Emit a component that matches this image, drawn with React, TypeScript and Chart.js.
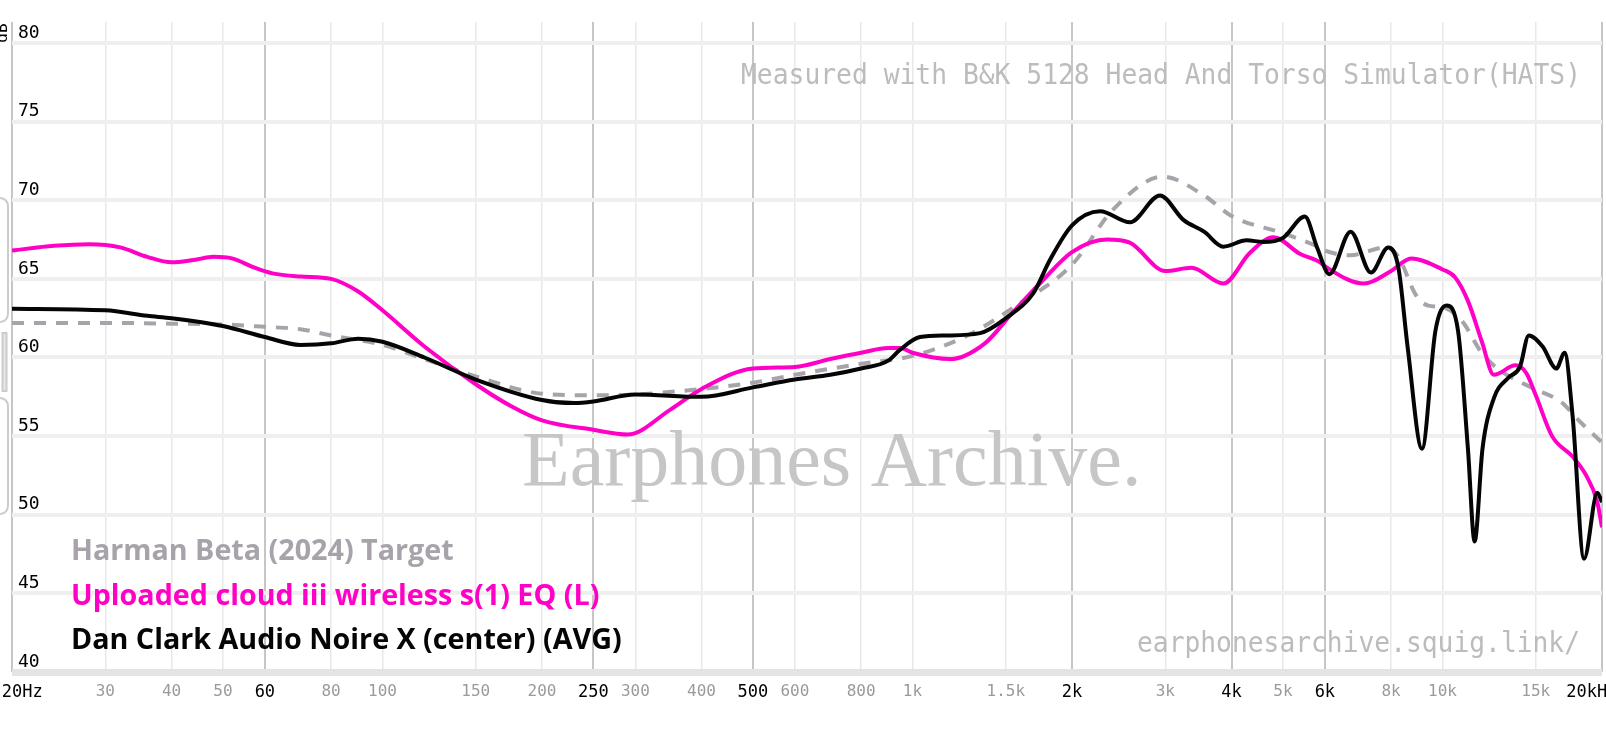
import React, { useEffect, useRef } from "react";
import { Chart, registerables } from "chart.js";

Chart.register(...registerables);

// ---- data (frequency in Hz, level in dB) ----
const harmanFreq = [20, 30, 40, 50, 60, 70, 80, 100, 120, 150, 200, 250, 300, 400, 500, 600, 800, 1000, 1270, 1570, 2000, 2390, 2970, 3550, 4000, 5000, 5820, 6000, 6700, 7800, 8260, 8900, 9400, 10000, 10900, 11800, 12700, 14900, 16700, 18200, 20000];
const harmanDb = [62.2, 62.2, 62.15, 62.1, 61.95, 61.8, 61.4, 60.8, 59.9, 58.8, 57.7, 57.6, 57.65, 58.0, 58.4, 58.9, 59.6, 60.1, 61.4, 63.3, 65.9, 69.4, 71.5, 70.3, 69.0, 67.9, 67.05, 66.8, 66.5, 67.0, 66.4, 64.0, 63.3, 63.2, 62.3, 60.4, 59.3, 58.0, 57.2, 55.9, 54.6];

const cloudFreq = [20, 24, 28, 32, 36, 40, 44, 48, 52, 57, 62, 70, 80, 90, 100, 120, 150, 175, 200, 250, 290, 350, 400, 500, 600, 700, 800, 900, 948, 1000, 1178, 1370, 1540, 1750, 2000, 2330, 2570, 3000, 3360, 3860, 4330, 4800, 5380, 5875, 6000, 7114, 8000, 8724, 10000, 10560, 11170, 11870, 12500, 13740, 14400, 15000, 16100, 17600, 18670, 19600, 20000];
const cloudDb = [66.8, 67.1, 67.2, 67.0, 66.4, 66.05, 66.2, 66.4, 66.3, 65.75, 65.35, 65.15, 65.0, 64.2, 63.0, 60.7, 58.3, 56.9, 56.0, 55.4, 55.1, 56.7, 58.0, 59.3, 59.4, 59.9, 60.3, 60.6, 60.6, 60.3, 59.9, 60.9, 62.8, 64.8, 66.7, 67.5, 67.3, 65.5, 65.7, 64.7, 66.65, 67.65, 66.6, 66.05, 65.8, 64.7, 65.5, 66.3, 65.6, 65.1, 63.6, 61.0, 58.9, 59.5, 59.0, 57.6, 55.0, 53.7, 52.5, 50.8, 49.2];

const noireFreq = [20, 30, 36, 40, 50, 60, 70, 80, 90, 100, 120, 150, 200, 230, 250, 300, 400, 500, 600, 700, 800, 900, 948, 1033, 1160, 1341, 1500, 1691, 1817, 2000, 2259, 2573, 2931, 3245, 3550, 3860, 4270, 4590, 5000, 5500, 5800, 6120, 6710, 7330, 7900, 8260, 8600, 9150, 9700, 10180, 10700, 11170, 11500, 11900, 12500, 13300, 14000, 14550, 15450, 16400, 17000, 17600, 18500, 19600, 20000];
const noireDb = [63.1, 63.0, 62.65, 62.5, 62.0, 61.3, 60.8, 60.9, 61.2, 61.0, 60.0, 58.6, 57.3, 57.1, 57.2, 57.65, 57.5, 58.1, 58.6, 58.9, 59.3, 59.8, 60.5, 61.3, 61.4, 61.55, 62.5, 64.1, 66.2, 68.4, 69.3, 68.6, 70.3, 68.75, 68.0, 67.05, 67.45, 67.35, 67.6, 68.96, 67.0, 65.3, 68.0, 65.4, 67.0, 65.7, 60.6, 54.2, 61.7, 63.3, 61.7, 54.2, 48.3, 54.2, 57.4, 58.7, 59.4, 61.4, 60.7, 59.3, 60.3, 56.3, 47.2, 51.4, 50.8];

const seriesLabels = [
  "Harman Beta (2024) Target",
  "Uploaded cloud iii wireless s(1) EQ (L)",
  "Dan Clark Audio Noire X (center) (AVG)",
];
const seriesColors = ["#a8a3ab", "#ff00c6", "#050505"];

const xTickValues = [20, 30, 40, 50, 60, 80, 100, 150, 200, 250, 300, 400, 500, 600, 800, 1000, 1500, 2000, 3000, 4000, 5000, 6000, 8000, 10000, 15000, 20000];
const xTickLabels = ["  20Hz", "30", "40", "50", "60", "80", "100", "150", "200", "250", "300", "400", "500", "600", "800", "1k", "1.5k", "2k", "3k", "4k", "5k", "6k", "8k", "10k", "15k", "20kHz  "];
const xMajorTicks = [20, 60, 250, 500, 2000, 4000, 6000, 20000];
const yTickValues = [40, 45, 50, 55, 60, 65, 70, 75, 80];

const watermark = "Earphones Archive.";
const topNote = "Measured with B&K 5128 Head And Torso Simulator(HATS)";
const bottomNote = "earphonesarchive.squig.link/";

const MONO = "DejaVu Sans Mono";

function toPoints(f: number[], d: number[]) {
  return f.map((x, i) => ({ x, y: d[i] }));
}

function roundRectPath(ctx: CanvasRenderingContext2D, x: number, y: number, w: number, h: number, r: number) {
  ctx.beginPath();
  ctx.moveTo(x + r, y);
  ctx.lineTo(x + w - r, y);
  ctx.quadraticCurveTo(x + w, y, x + w, y + r);
  ctx.lineTo(x + w, y + h - r);
  ctx.quadraticCurveTo(x + w, y + h, x + w - r, y + h);
  ctx.lineTo(x + r, y + h);
  ctx.quadraticCurveTo(x, y + h, x, y + h - r);
  ctx.lineTo(x, y + r);
  ctx.quadraticCurveTo(x, y, x + r, y);
  ctx.closePath();
}

const decorPlugin = {
  id: "decor",
  beforeDatasetsDraw(chart: any) {
    const ctx: CanvasRenderingContext2D = chart.ctx;
    ctx.save();
    ctx.fillStyle = "#c6c6c6";
    ctx.font = '78px "Liberation Serif"';
    ctx.textAlign = "left";
    ctx.textBaseline = "alphabetic";
    ctx.fillText(watermark, 522, 485);

    ctx.fillStyle = "#bcbcbc";
    ctx.font = `29px "${MONO}"`;
    ctx.textAlign = "right";
    ctx.textBaseline = "middle";
    ctx.fillText(topNote, 1581, 76, 840);
    ctx.fillText(bottomNote, 1580, 644, 443);
    ctx.restore();
  },
  afterDraw(chart: any) {
    const ctx: CanvasRenderingContext2D = chart.ctx;
    ctx.save();
    // legend
    ctx.font = 'bold 28.7px "Open Sans"';
    ctx.textAlign = "left";
    ctx.textBaseline = "alphabetic";
    chart.data.datasets.forEach((ds: any, i: number) => {
      ctx.fillStyle = ds.legendColor;
      ctx.fillText(ds.label, 71, 560 + i * 44.5);
    });

    // rotated unit label
    ctx.save();
    ctx.translate(7, 33);
    ctx.rotate(-Math.PI / 2);
    ctx.font = `16px "${MONO}"`;
    ctx.fillStyle = "#000";
    ctx.textAlign = "center";
    ctx.textBaseline = "alphabetic";
    ctx.fillText("dB", 0, 0);
    ctx.restore();

    // left scale handle
    ctx.strokeStyle = "#cccccc";
    ctx.lineWidth = 2;
    ctx.fillStyle = "#ffffff";
    roundRectPath(ctx, -12, 198, 20, 124, 9);
    ctx.fill();
    ctx.stroke();
    roundRectPath(ctx, -12, 398, 20, 116, 9);
    ctx.fill();
    ctx.stroke();
    ctx.fillStyle = "#e6e6e6";
    ctx.fillRect(2.5, 333, 4, 58);
    ctx.strokeRect(2.5, 333, 4, 58);
    ctx.restore();
  },
};

export default function App() {
  const ref = useRef<HTMLCanvasElement>(null);

  useEffect(() => {
    if (!ref.current) return;
    const isMajor = (v: any) => xMajorTicks.includes(v);
    const chart = new Chart(ref.current, {
      type: "line",
      data: {
        datasets: [
          {
            label: seriesLabels[0],
            data: toPoints(harmanFreq, harmanDb),
            borderColor: seriesColors[0],
            borderWidth: 4,
            borderDash: [12, 10],
            pointRadius: 0,
            cubicInterpolationMode: "monotone",
            order: 2,
            legendColor: seriesColors[0],
          } as any,
          {
            label: seriesLabels[1],
            data: toPoints(cloudFreq, cloudDb),
            borderColor: seriesColors[1],
            borderWidth: 4,
            pointRadius: 0,
            cubicInterpolationMode: "monotone",
            order: 1,
            legendColor: seriesColors[1],
          } as any,
          {
            label: seriesLabels[2],
            data: toPoints(noireFreq, noireDb),
            borderColor: seriesColors[2],
            borderWidth: 4,
            pointRadius: 0,
            cubicInterpolationMode: "monotone",
            order: 0,
            legendColor: seriesColors[2],
          } as any,
        ],
      },
      options: {
        animation: false,
        responsive: true,
        maintainAspectRatio: false,
        layout: { padding: { top: 22, right: 4, left: 0, bottom: 0 } },
        plugins: {
          legend: { display: false },
          tooltip: { enabled: false },
        },
        scales: {
          x: {
            type: "logarithmic",
            min: 20,
            max: 20000,
            afterBuildTicks: (s: any) => {
              s.ticks = xTickValues.map((v) => ({ value: v }));
            },
            afterFit: (s: any) => {
              s.height = 59;
              s.paddingLeft = 0;
              s.paddingRight = 0;
            },
            border: { display: false },
            grid: {
              drawTicks: false,
              color: (c: any) => (isMajor(c.tick?.value) ? "#c6c6c6" : "#e8e8e8"),
              lineWidth: (c: any) => (isMajor(c.tick?.value) ? 2 : 1.5),
            },
            ticks: {
              autoSkip: false,
              maxRotation: 0,
              minRotation: 0,
              padding: 10,
              callback: (_v: any, i: number) => xTickLabels[i],
              color: (c: any) => (isMajor(c.tick?.value) ? "#000000" : "#9a9a9a"),
              font: (c: any) => ({ family: MONO, size: isMajor(c.tick?.value) ? 17 : 16 }),
            },
          },
          y: {
            type: "linear",
            position: "left",
            min: 40,
            max: 81.335,
            afterBuildTicks: (s: any) => {
              s.ticks = yTickValues.map((v) => ({ value: v }));
            },
            afterFit: (s: any) => {
              s.width = 12;
              s.paddingTop = 0;
              s.paddingBottom = 0;
            },
            border: { display: false },
            grid: {
              drawTicks: false,
              color: (c: any) => (c.tick?.value === 40 ? "#e4e4e4" : "#efefef"),
              lineWidth: (c: any) => (c.tick?.value === 40 ? 7 : 4),
            },
            ticks: {
              mirror: true,
              padding: 6,
              labelOffset: -10,
              color: "#000000",
              font: { family: MONO, size: 18 },
            },
          },
        },
      } as any,
      plugins: [decorPlugin],
    });
    return () => chart.destroy();
  }, []);

  return (
    <div style={{ position: "absolute", left: 0, top: 0, width: 1606, height: 731, background: "#ffffff" }}>
      <canvas ref={ref} />
    </div>
  );
}
